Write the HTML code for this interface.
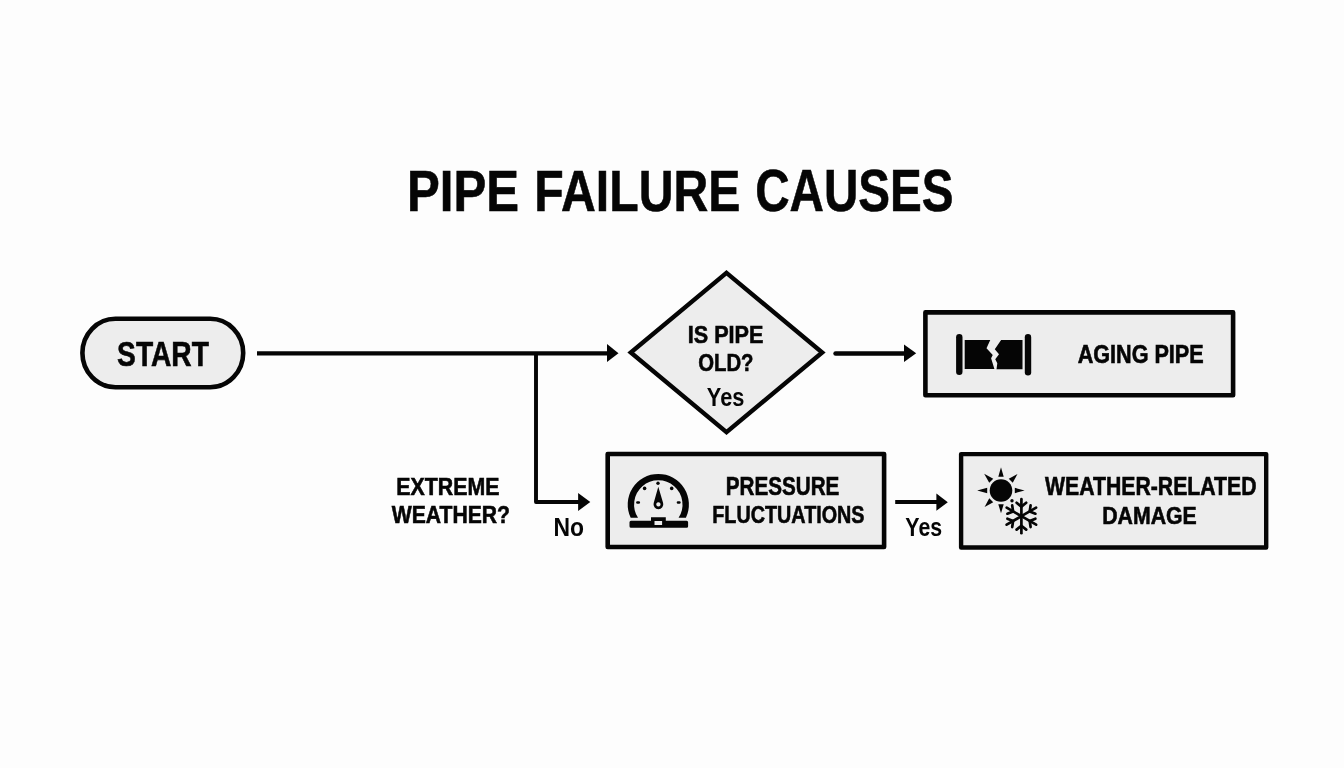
<!DOCTYPE html>
<html>
<head>
<meta charset="utf-8">
<style>
html,body{margin:0;padding:0;background:#fdfdfd;width:1344px;height:768px;overflow:hidden;}
svg{display:block;position:absolute;left:0;top:0;will-change:transform;}
text{font-family:"Liberation Sans",sans-serif;font-weight:bold;fill:#050505;stroke:#050505;stroke-width:0.6px;}
</style>
</head>
<body>
<svg width="1344" height="768" viewBox="0 0 1344 768">
  <!-- title -->
  <text id="tw1" x="407.00" y="210.55" font-size="56.97" textLength="112.05" lengthAdjust="spacingAndGlyphs">PIPE</text>
  <text id="tw2" x="534.30" y="210.55" font-size="56.99" textLength="206.05" lengthAdjust="spacingAndGlyphs">FAILURE</text>
  <text id="tw3" x="755.15" y="210.95" font-size="58.32" textLength="198.35" lengthAdjust="spacingAndGlyphs">CAUSES</text>

  <!-- START pill -->
  <rect x="82.4" y="318.8" width="160.8" height="68.4" rx="33" ry="34.2" fill="#ededed" stroke="#050505" stroke-width="4.6"/>
  <text id="t_start" x="117.10" y="365.75" font-size="35.03" textLength="91.80" lengthAdjust="spacingAndGlyphs">START</text>

  <!-- main line -->
  <line x1="257" y1="353.4" x2="608" y2="353.4" stroke="#050505" stroke-width="4.3"/>
  <polygon points="607,344 618.5,353.2 607,362" fill="#050505"/>
  <!-- vertical branch -->
  <path d="M536,353.4 V502 H580" fill="none" stroke="#050505" stroke-width="3.9" stroke-linejoin="round"/>
  <polygon points="578.1,493 590.3,502 578.1,511" fill="#050505"/>

  <!-- diamond -->
  <polygon points="726.5,272.9 822.2,352.5 726.5,432.1 630.8,352.5" fill="#ededed" stroke="#050505" stroke-width="4.4" stroke-linejoin="miter"/>
  <text id="t_ispipe" x="687.75" y="343.15" font-size="24.61" textLength="75.65" lengthAdjust="spacingAndGlyphs">IS PIPE</text>
  <text id="t_old" x="698.25" y="371.25" font-size="24.61" textLength="55.25" lengthAdjust="spacingAndGlyphs">OLD?</text>
  <text id="t_yes1" style="stroke-width:0" x="706.85" y="406.40" font-size="25.93" textLength="37.60" lengthAdjust="spacingAndGlyphs">Yes</text>

  <!-- arrow to aging -->
  <line x1="835.6" y1="353.5" x2="906" y2="353.5" stroke="#050505" stroke-width="4.6" stroke-linecap="round"/>
  <polygon points="904,344.4 916.2,353.2 904,362" fill="#050505"/>

  <!-- aging box -->
  <rect x="925.4" y="312.4" width="307.7" height="82.8" fill="#ededed" stroke="#050505" stroke-width="4.6" stroke-linejoin="round"/>
  <text id="t_aging" x="1077.65" y="362.55" font-size="25.04" textLength="126.05" lengthAdjust="spacingAndGlyphs">AGING PIPE</text>
  <!-- pipe icon -->
  <rect x="956.1" y="334" width="6.4" height="41" rx="3.2" fill="#050505"/>
  <rect x="1024.8" y="334" width="6.4" height="41.4" rx="3.2" fill="#050505"/>
  <polygon points="964.7,340 990.25,340 986.5,348.3 992.75,355 991.1,358.3 994.4,369 964.7,369" fill="#050505"/>
  <polygon points="1001.1,340 1022.5,340 1022.5,369.2 996.5,369.2 997.3,363.3 995.25,359.2 999,354.2 994.8,349.2" fill="#050505"/>

  <!-- EXTREME WEATHER? -->
  <text id="t_extreme" x="396.35" y="494.95" font-size="24.58" textLength="103.05" lengthAdjust="spacingAndGlyphs">EXTREME</text>
  <text id="t_weatherq" x="391.75" y="523.10" font-size="24.73" textLength="118.25" lengthAdjust="spacingAndGlyphs">WEATHER?</text>
  <text id="t_no" style="stroke-width:0" x="553.45" y="536.40" font-size="25.22" textLength="30.55" lengthAdjust="spacingAndGlyphs">No</text>

  <!-- pressure box -->
  <rect x="607.7" y="454" width="276.4" height="93" fill="#ededed" stroke="#050505" stroke-width="4.6" stroke-linejoin="round"/>
  <text id="t_pressure" x="725.75" y="495.05" font-size="25.04" textLength="113.65" lengthAdjust="spacingAndGlyphs">PRESSURE</text>
  <text id="t_fluct" x="712.30" y="523.10" font-size="24.77" textLength="152.25" lengthAdjust="spacingAndGlyphs">FLUCTUATIONS</text>
  <!-- gauge icon -->
  <g fill="#050505">
    <path d="M630.69,517.7 A30.6,30.6 0 1 1 685.91,517.7 L678.58,517.7 A24.2,24.2 0 1 0 638.02,517.7 Z"/>
    <path d="M631,520.8 H651 V517.3 H665.8 V520.8 H686.6 Q688.1,520.8 688.1,522.3 V526.3 Q688.1,527.8 686.6,527.8 H631 Q629.5,527.8 629.5,526.3 V522.3 Q629.5,520.8 631,520.8 Z M654.5,520.9 V525.1 H662.1 V520.9 Z" fill-rule="evenodd"/>
    <path d="M658.3,486.8 L663.11,503.04 A4.9,4.9 0 1 1 653.69,503.04 Z M658.4,502.25 a2.15,2.15 0 1 0 0.001,0 Z" fill-rule="evenodd"/>
    <circle cx="658" cy="483.3" r="1.7"/>
    <circle cx="644.6" cy="488.4" r="1.8"/>
    <circle cx="671.7" cy="488.4" r="1.8"/>
    <rect x="636.15" y="501.15" width="3.9" height="2.5" rx="1.2"/>
    <rect x="676.75" y="501.15" width="3.9" height="2.5" rx="1.2"/>
  </g>

  <!-- arrow to weather -->
  <line x1="895.2" y1="502.1" x2="938" y2="502.1" stroke="#050505" stroke-width="4"/>
  <polygon points="936.4,493.6 947.8,502.2 936.4,510.8" fill="#050505"/>
  <text id="t_yes2" style="stroke-width:0" x="905.35" y="536.25" font-size="25.64" textLength="36.80" lengthAdjust="spacingAndGlyphs">Yes</text>

  <!-- weather box -->
  <rect x="961.1" y="454.1" width="305.1" height="93.4" fill="#ededed" stroke="#050505" stroke-width="4.4" stroke-linejoin="round"/>
  <text id="t_wr" x="1045.05" y="495.25" font-size="25.60" textLength="211.50" lengthAdjust="spacingAndGlyphs">WEATHER-RELATED</text>
  <text id="t_damage" x="1102.25" y="523.50" font-size="24.77" textLength="94.45" lengthAdjust="spacingAndGlyphs">DAMAGE</text>
  <!-- sun -->
  <g fill="#050505">
    <circle cx="1001" cy="490.5" r="11.3"/>
    <g transform="translate(1001,490.5)">
      <polygon points="-2.7,-13.8 0,-23.3 2.7,-13.8"/>
      <polygon points="-2.8,-13.8 0,-23.8 2.8,-13.8" transform="rotate(-45)"/>
      <polygon points="-2.8,-13.8 0,-23.3 2.8,-13.8" transform="rotate(45)"/>
      <polygon points="-2.7,-13.8 0,-23.6 2.7,-13.8" transform="rotate(90)"/>
      <polygon points="-2.7,-13.8 0,-22.8 2.7,-13.8" transform="rotate(180)"/>
      <polygon points="-2.8,-13.8 0,-23.2 2.8,-13.8" transform="rotate(225)"/>
      <polygon points="-2.7,-13.8 0,-23.8 2.7,-13.8" transform="rotate(270)"/>
      <circle cx="11" cy="10.2" r="1.7"/>
    </g>
  </g>
  <!-- snowflake -->
  <g stroke="#050505" stroke-width="2.7" stroke-linecap="round" stroke-linejoin="round" fill="none" transform="translate(1021.4,516.2)">
    <g id="arm">
      <line x1="0" y1="0" x2="0" y2="-17"/>
      <polyline points="-4.8,-13.4 0,-9.6 4.8,-13.4"/>
    </g>
    <use href="#arm" transform="rotate(60)"/>
    <use href="#arm" transform="rotate(120)"/>
    <use href="#arm" transform="rotate(180)"/>
    <use href="#arm" transform="rotate(240)"/>
    <use href="#arm" transform="rotate(300)"/>
  </g>
</svg>
</body>
</html>
